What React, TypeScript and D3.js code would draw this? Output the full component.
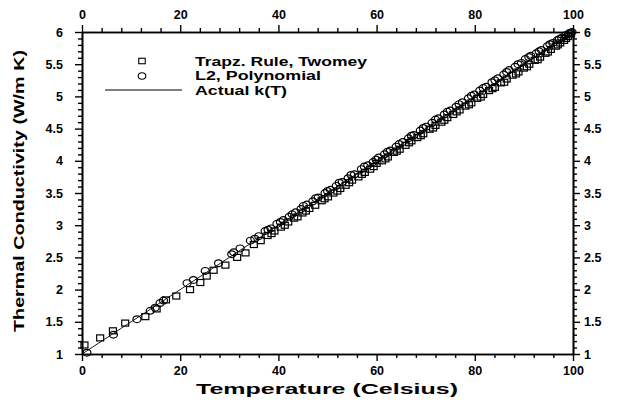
import React, { useEffect, useRef } from "react";
import * as d3 from "d3";

// Temperature (°C) and conductivity (W/m K) samples for each method
const trapzT = [0.5, 3.7, 6.3, 8.8, 12.9, 15.2, 17.1, 19.2, 22.0, 24.1, 25.4, 26.8, 29.2, 31.6, 33.3, 35.0, 36.4, 37.8, 38.6, 39.2, 40.5, 41.3, 42.0, 43.2, 43.9, 44.9, 45.6, 46.3, 47.5, 48.8, 49.4, 50.1, 51.2, 52.0, 52.6, 53.7, 54.4, 55.0, 56.3, 57.0, 57.6, 58.7, 59.4, 60.0, 61.1, 61.8, 62.3, 63.5, 64.1, 64.7, 65.9, 66.6, 67.1, 68.3, 69.0, 69.5, 70.8, 71.5, 72.0, 73.2, 73.8, 74.4, 75.6, 76.3, 76.9, 78.1, 78.8, 79.3, 80.5, 81.2, 81.7, 82.9, 83.6, 84.1, 85.3, 86.0, 86.5, 87.7, 88.4, 88.9, 90.0, 90.6, 91.1, 92.2, 92.8, 93.3, 94.4, 94.9, 95.5, 96.5, 96.9, 97.4, 98.2, 98.6, 99.0, 99.6];
const trapzK = [1.14, 1.25, 1.36, 1.48, 1.58, 1.70, 1.84, 1.90, 2.00, 2.11, 2.21, 2.30, 2.38, 2.50, 2.57, 2.70, 2.76, 2.84, 2.87, 2.91, 2.97, 3.00, 3.05, 3.11, 3.13, 3.19, 3.22, 3.26, 3.31, 3.38, 3.41, 3.44, 3.50, 3.53, 3.57, 3.62, 3.66, 3.70, 3.75, 3.79, 3.82, 3.87, 3.91, 3.96, 4.00, 4.03, 4.06, 4.13, 4.15, 4.18, 4.24, 4.28, 4.31, 4.36, 4.39, 4.42, 4.49, 4.51, 4.55, 4.60, 4.63, 4.67, 4.72, 4.76, 4.79, 4.85, 4.87, 4.90, 4.97, 4.99, 5.03, 5.09, 5.12, 5.14, 5.21, 5.22, 5.27, 5.33, 5.35, 5.38, 5.44, 5.46, 5.50, 5.56, 5.57, 5.61, 5.67, 5.69, 5.73, 5.78, 5.80, 5.83, 5.87, 5.90, 5.93, 5.97];

const polyT = [1.0, 6.4, 11.2, 13.9, 14.9, 15.9, 16.6, 21.4, 22.7, 25.1, 27.8, 30.5, 30.9, 32.2, 34.3, 35.2, 36.0, 37.3, 37.9, 38.5, 39.7, 40.4, 41.0, 42.2, 42.8, 43.5, 44.6, 45.1, 45.8, 47.0, 47.6, 48.1, 49.5, 50.0, 50.6, 51.8, 52.4, 53.0, 54.2, 54.8, 55.5, 56.9, 57.5, 58.2, 59.3, 59.9, 60.4, 61.6, 62.2, 62.8, 64.0, 64.6, 65.3, 66.5, 67.1, 67.6, 68.9, 69.5, 70.1, 71.3, 72.0, 72.6, 73.8, 74.4, 75.0, 76.2, 76.8, 77.5, 78.7, 79.3, 79.9, 81.0, 81.7, 82.3, 83.5, 84.1, 84.7, 85.9, 86.5, 87.0, 88.2, 88.8, 89.5, 90.3, 91.0, 91.4, 92.5, 93.1, 93.6, 94.8, 95.3, 95.9, 96.8, 97.2, 97.7, 98.5, 99.2, 99.5, 99.8];
const polyK = [1.02, 1.30, 1.54, 1.67, 1.72, 1.79, 1.83, 2.10, 2.15, 2.29, 2.41, 2.55, 2.58, 2.64, 2.76, 2.79, 2.83, 2.91, 2.93, 2.95, 3.02, 3.05, 3.08, 3.13, 3.17, 3.20, 3.25, 3.30, 3.32, 3.37, 3.42, 3.43, 3.50, 3.53, 3.55, 3.61, 3.66, 3.67, 3.73, 3.78, 3.79, 3.87, 3.91, 3.93, 3.98, 4.02, 4.05, 4.10, 4.14, 4.16, 4.22, 4.26, 4.29, 4.35, 4.39, 4.40, 4.47, 4.51, 4.53, 4.59, 4.64, 4.66, 4.72, 4.76, 4.78, 4.84, 4.88, 4.91, 4.97, 5.01, 5.03, 5.09, 5.13, 5.15, 5.22, 5.25, 5.28, 5.34, 5.38, 5.41, 5.46, 5.50, 5.52, 5.58, 5.61, 5.63, 5.67, 5.70, 5.72, 5.78, 5.81, 5.83, 5.87, 5.89, 5.91, 5.95, 5.98, 5.99, 6.00];

// Exact conductivity k(T) at the end points of the range
const actualT = [0, 100];
const actualK = [1, 6];

const xMajor = [0, 20, 40, 60, 80, 100];
const yMajor = [1, 1.5, 2, 2.5, 3, 3.5, 4, 4.5, 5, 5.5, 6];

const legendLabels = ["Trapz. Rule, Twomey", "L2, Polynomial", "Actual k(T)"];
const xTitle = "Temperature (Celsius)";
const yTitle = "Thermal Conductivity (W/m K)";

const W = 619;
const H = 402;
const M = { left: 82, right: 46, top: 32, bottom: 48 };
const FONT = "'Liberation Sans', Arial, Helvetica, sans-serif";

export default function App() {
  const ref = useRef<SVGSVGElement>(null);

  useEffect(() => {
    const svg = d3.select(ref.current);
    svg.selectAll("*").remove();

    const x = d3.scaleLinear().domain([0, 100]).range([M.left, W - M.right]);
    const y = d3.scaleLinear().domain([1, 6]).range([H - M.bottom, M.top]);

    const xMinor = d3.range(0, 101, 4).filter((v) => v % 20 !== 0);
    const yMinor = d3.range(10, 61, 1).map((v) => v / 10).filter((v) => Math.round(v * 10) % 5 !== 0);

    const styleAxis = (g: any) => {
      g.select(".domain").attr("stroke", "#000").attr("stroke-width", 1.6);
      g.selectAll(".tick line").attr("stroke", "#000").attr("stroke-width", 1.4);
      g.selectAll(".tick text")
        .attr("fill", "#000")
        .attr("font-family", FONT)
        .attr("font-weight", "bold")
        .attr("font-size", 12.5);
    };

    const fmt = (d: any) => d3.format("~g")(d);

    // Minor ticks
    svg.append("g").attr("transform", `translate(0,${y(1)})`)
      .call(d3.axisBottom(x).tickValues(xMinor).tickSize(4).tickSizeOuter(0).tickFormat(() => ""))
      .call(styleAxis);
    svg.append("g").attr("transform", `translate(0,${y(6)})`)
      .call(d3.axisTop(x).tickValues(xMinor).tickSize(4).tickSizeOuter(0).tickFormat(() => ""))
      .call(styleAxis);
    svg.append("g").attr("transform", `translate(${x(0)},0)`)
      .call(d3.axisLeft(y).tickValues(yMinor).tickSize(4).tickSizeOuter(0).tickFormat(() => ""))
      .call(styleAxis);
    svg.append("g").attr("transform", `translate(${x(100)},0)`)
      .call(d3.axisRight(y).tickValues(yMinor).tickSize(4).tickSizeOuter(0).tickFormat(() => ""))
      .call(styleAxis);

    // Major ticks with labels
    svg.append("g").attr("transform", `translate(0,${y(1)})`)
      .call(d3.axisBottom(x).tickValues(xMajor).tickSize(7).tickSizeOuter(0).tickPadding(5).tickFormat(fmt))
      .call(styleAxis);
    svg.append("g").attr("transform", `translate(0,${y(6)})`)
      .call(d3.axisTop(x).tickValues(xMajor).tickSize(7).tickSizeOuter(0).tickPadding(6).tickFormat(fmt))
      .call(styleAxis);
    svg.append("g").attr("transform", `translate(${x(0)},0)`)
      .call(d3.axisLeft(y).tickValues(yMajor).tickSize(7).tickSizeOuter(0).tickPadding(12).tickFormat(fmt))
      .call(styleAxis);
    svg.append("g").attr("transform", `translate(${x(100)},0)`)
      .call(d3.axisRight(y).tickValues(yMajor).tickSize(7).tickSizeOuter(0).tickPadding(4).tickFormat(fmt))
      .call(styleAxis);

    // Actual k(T) line
    const line = d3.line<number>().x((d, i) => x(actualT[i])).y((d) => y(d));
    svg.append("path").attr("d", line(actualK) as string)
      .attr("fill", "none").attr("stroke", "#000").attr("stroke-width", 0.9);

    // Trapezoid rule markers (squares)
    const sq = 7;
    svg.append("g").selectAll("rect").data(trapzK).join("rect")
      .attr("x", (d, i) => x(trapzT[i]) - sq / 2)
      .attr("y", (d) => y(d) - sq / 2 + 0.5)
      .attr("width", sq).attr("height", sq - 1)
      .attr("fill", "none").attr("stroke", "#000").attr("stroke-width", 1.2);

    // Polynomial markers (circles)
    svg.append("g").selectAll("ellipse").data(polyK).join("ellipse")
      .attr("cx", (d, i) => x(polyT[i]))
      .attr("cy", (d) => y(d))
      .attr("rx", 4).attr("ry", 3.4)
      .attr("fill", "none").attr("stroke", "#000").attr("stroke-width", 1.2);

    // Legend
    const lg = svg.append("g");
    lg.append("rect").attr("x", 142 - 3.25).attr("y", 61 - 2.75).attr("width", 6.5).attr("height", 5.5)
      .attr("fill", "none").attr("stroke", "#000").attr("stroke-width", 1.1);
    lg.append("ellipse").attr("cx", 142).attr("cy", 76).attr("rx", 3.8).attr("ry", 3.2)
      .attr("fill", "none").attr("stroke", "#000").attr("stroke-width", 1.1);
    lg.append("line").attr("x1", 105).attr("x2", 182).attr("y1", 90).attr("y2", 90)
      .attr("stroke", "#000").attr("stroke-width", 1);
    const legendLens = [172, 126, 92];
    lg.selectAll("text").data(legendLabels).join("text")
      .attr("x", 195).attr("y", (d, i) => 65.5 + i * 14.5)
      .attr("font-family", FONT).attr("font-weight", "bold").attr("font-size", 12.5)
      .attr("textLength", (d, i) => legendLens[i]).attr("lengthAdjust", "spacingAndGlyphs")
      .text((d) => d);

    // Axis titles
    svg.append("text").attr("x", 327).attr("y", 394).attr("text-anchor", "middle")
      .attr("font-family", FONT).attr("font-weight", "bold").attr("font-size", 15.5)
      .attr("textLength", 262).attr("lengthAdjust", "spacingAndGlyphs")
      .text(xTitle);
    svg.append("text").attr("transform", `translate(24,191) rotate(-90)`).attr("text-anchor", "middle")
      .attr("font-family", FONT).attr("font-weight", "bold").attr("font-size", 15.5)
      .attr("textLength", 282).attr("lengthAdjust", "spacingAndGlyphs")
      .text(yTitle);
  }, []);

  return (
    <svg ref={ref} width={W} height={H} style={{ position: "absolute", left: 0, top: 0, background: "#fff" }} />
  );
}
